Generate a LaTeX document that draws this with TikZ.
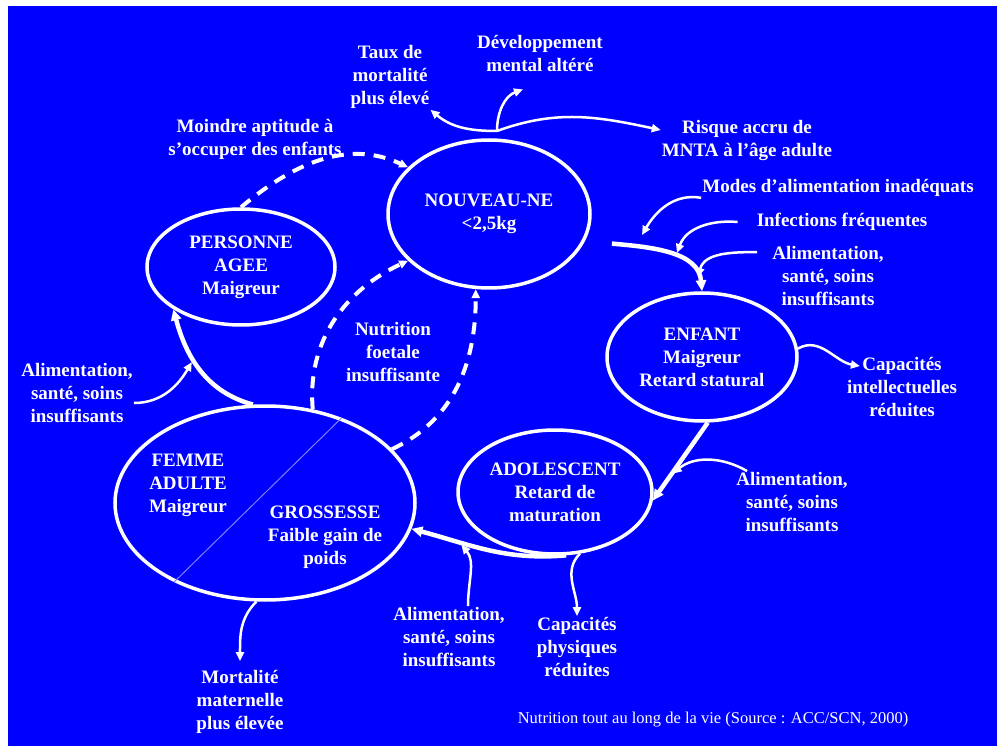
\documentclass[tikz,border=0pt]{standalone}
\usepackage{fontspec}
\setmainfont{Liberation Serif}
\usepackage{tikz}
\usetikzlibrary{shapes.geometric, arrows.meta}

\begin{document}
\begin{tikzpicture}[x=1pt,y=1pt]
\tikzset{StageStyle/.style = {ellipse, draw=white, line width=3.5pt, inner sep=0pt, align=center, text=white, font=\fontsize{19}{23}\selectfont\bfseries},
LabelStyle/.style = {align=center, text=white, inner sep=1pt, font=\fontsize{19}{23}\selectfont\bfseries},
SourceStyle/.style = {text=white, inner sep=1pt, font=\fontsize{16.5}{20}\selectfont},
ArrowStyle/.style = {draw=white, line width=2.5pt, -{Triangle[length=9pt,width=8pt]}},
MainArrowStyle/.style = {ArrowStyle, line width=4.5pt, -{Triangle[length=11pt,width=10pt]}},
DashStyle/.style = {ArrowStyle, line width=4pt, dash pattern=on 12pt off 9pt}
}

    % Background
    \fill[white] (0,0) rectangle (997,-746);
    \fill[blue] (8,-6) rectangle (997,-746);
    \useasboundingbox (0,0) rectangle (997,-746);

   % Stages of life
   \node[StageStyle, minimum width=202pt, minimum height=148pt] (nn) at (489,-214) {NOUVEAU-NE\\<2,5kg};
   \node[StageStyle, minimum width=188pt, minimum height=116pt] (pa) at (241,-267) {PERSONNE\\AGEE\\Maigreur};
   \node[StageStyle, minimum width=190pt, minimum height=128pt] (enf) at (702,-357) {ENFANT\\Maigreur\\Retard statural};
   \node[StageStyle, minimum width=194pt, minimum height=124pt] (ado) at (555,-492) {ADOLESCENT\\Retard de\\maturation};
   \node[StageStyle, minimum width=300pt, minimum height=194pt] (fa) at (265,-503) {};
   \draw[white!50!blue, line width=1pt] (fa.48) -- (fa.221);
   \node[LabelStyle] (femme) at (188,-485) {FEMME\\ADULTE\\Maigreur};
   \node[LabelStyle] (grossesse) at (325,-537) {GROSSESSE\\Faible gain de\\poids};

   % Causes and consequences
   \node[LabelStyle] (taux) at (390,-77) {Taux de\\mortalité\\plus élevé};
   \node[LabelStyle] (devel) at (540,-53) {Développement\\mental altéré};
   \node[LabelStyle] (risque) at (747,-141) {Risque accru de\\MNTA à l'âge adulte};
   \node[LabelStyle] (moindre) at (255,-139) {Moindre aptitude à\\s'occuper des enfants};
   \node[LabelStyle] (modes) at (838,-188) {Modes d'alimentation inadéquats};
   \node[LabelStyle] (infect) at (842,-222) {Infections fréquentes};
   \node[LabelStyle] (alimA) at (828,-276) {Alimentation,\\santé, soins\\insuffisants};
   \node[LabelStyle] (capint) at (902,-387) {Capacités\\intellectuelles\\réduites};
   \node[LabelStyle] (alimB) at (792,-502) {Alimentation,\\santé, soins\\insuffisants};
   \node[LabelStyle] (capphys) at (577,-647) {Capacités\\physiques\\réduites};
   \node[LabelStyle] (alimC) at (449,-637) {Alimentation,\\santé, soins\\insuffisants};
   \node[LabelStyle] (mortal) at (240,-702) {Mortalité\\maternelle\\plus élevée};
   \node[LabelStyle] (alimD) at (77,-393) {Alimentation,\\santé, soins\\insuffisants};
   \node[LabelStyle] (nutri) at (393,-352) {Nutrition\\foetale\\insuffisante};
   \node[SourceStyle] (source) at (713,-720) {Nutrition tout au long de la vie (Source : ACC/SCN, 2000)};

   % Newborn consequences
   \coordinate (hub) at (497,-131);
   \draw[ArrowStyle] (hub) to[out=180,in=-40] (taux.south east);
   \draw[ArrowStyle] (hub) to[out=90,in=200] ([shift={(-17,-17)}]devel.south);
   \draw[ArrowStyle] (hub) to[out=20,in=168] ([yshift=11]risque.west);

   % Cycle
   \draw[MainArrowStyle] ([shift={(23,-12)}]nn.-10) to[out=-5,in=95] (enf.north);
   \draw[MainArrowStyle] (enf.-85) -- coordinate[pos=.68] (enfado) (ado.-5);
   \draw[MainArrowStyle] (ado.-80) to[out=185,in=-15] coordinate[pos=.7] (adofa) (fa.-10);
   \draw[MainArrowStyle] (fa.97) to[out=165,in=-75] coordinate[pos=.6] (fapa) (pa.212);
   \draw[DashStyle] (pa.north) to[out=40,in=155] (nn.150);
   \draw[DashStyle] (fa.63) to[out=95,in=205] (nn.210);
   \draw[DashStyle] (fa.23) to[out=25,in=-90] (nn.-100);

   % Inputs to the cycle
   \coordinate (modestip) at (642,-235);
   \coordinate (infecttip) at (677,-253);
   \coordinate (alimtip) at (698,-277);
   \draw[ArrowStyle] (modes.south west) to[out=170,in=60] (modestip);
   \draw[ArrowStyle] ([xshift=-18]infect.west) to[out=175,in=70] (infecttip);
   \draw[ArrowStyle] ([shift={(-14,-7)}]alimA.north west) to[out=180,in=75] (alimtip);
   \draw[ArrowStyle, shorten >=3pt] ([xshift=12]alimB.north west) to[out=150,in=40] (enfado);
   \draw[ArrowStyle, shorten >=3pt] ([xshift=19]alimC.north) to[out=90,in=-50] (adofa);
   \draw[ArrowStyle, shorten >=3pt] ([yshift=-10]alimD.east) to[out=0,in=-120] (fapa);

   % Outputs of the cycle
   \draw[ArrowStyle] (enf.5) to[out=30,in=170] ([shift={(14,-10)}]capint.north west);
   \draw[ArrowStyle] (ado.-68) to[out=-135,in=90] (capphys.north);
   \draw[ArrowStyle] (fa.-95) to[out=-135,in=90] ([yshift=8]mortal.north);
\end{tikzpicture}
\end{document}
